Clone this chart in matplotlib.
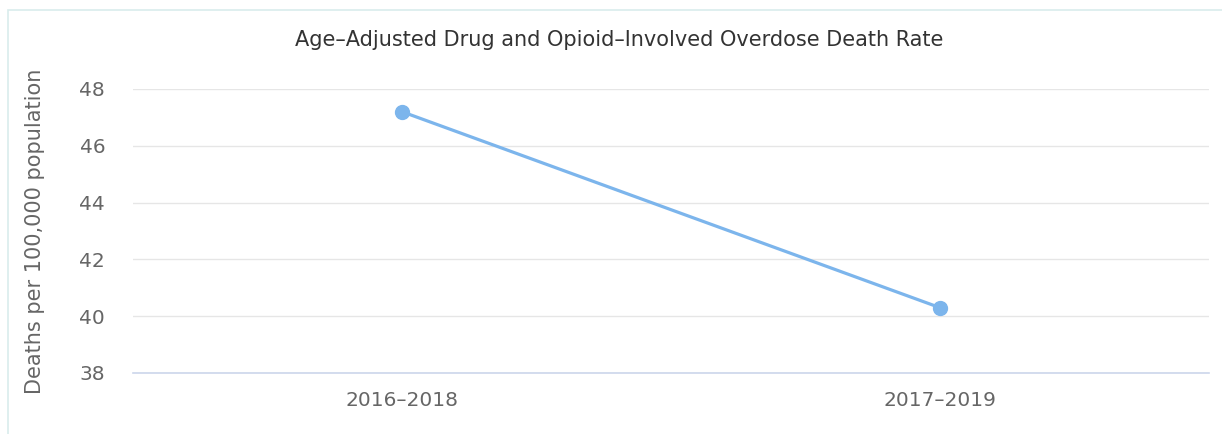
import matplotlib.pyplot as plt
from matplotlib.patches import Rectangle

# Data
periods = ['2016\u20132018', '2017\u20132019']
rates = [47.2, 40.3]
y_ticks = [38, 40, 42, 44, 46, 48]

plt.rcParams['font.family'] = ['DejaVu Sans']

fig = plt.figure(figsize=(12.22, 4.34), dpi=100)

# light frame round the chart
fig.patches.append(Rectangle((8 / 1222, -0.05), 1.2, 1 - 10 / 434 + 0.05,
                             transform=fig.transFigure, fill=False,
                             edgecolor='#d9ecec', linewidth=1.2))

ax = fig.add_axes([133 / 1222, 1 - 373 / 434, (1209 - 133) / 1222, (373 - 89) / 434])

x = list(range(len(periods)))
ax.plot(x, rates, color='#7cb5ec', linewidth=2.3, marker='o',
        markersize=10, zorder=3)

ax.set_xlim(-0.5, len(periods) - 0.5)
ax.set_ylim(y_ticks[0], y_ticks[-1])
ax.set_yticks(y_ticks)
ax.set_xticks(x)
ax.set_xticklabels(periods)

ax.grid(axis='y', color='#e6e6e6', linewidth=1)
ax.set_axisbelow(True)
for s in ['top', 'right', 'left']:
    ax.spines[s].set_visible(False)
ax.spines['bottom'].set_color('#ccd6eb')
ax.spines['bottom'].set_linewidth(1.2)
ax.tick_params(axis='both', length=0, labelsize=14.5, labelcolor='#666666')
ax.tick_params(axis='y', pad=20)
ax.tick_params(axis='x', pad=13)

ax.set_ylabel('Deaths per 100,000 population', fontsize=15, color='#666666',
              labelpad=25)
fig.text(0.507, 1 - 40 / 434, 'Age\u2013Adjusted Drug and Opioid\u2013Involved Overdose Death Rate',
         ha='center', va='center', fontsize=15, color='#333333')

fig.savefig('out.png', dpi=100)
